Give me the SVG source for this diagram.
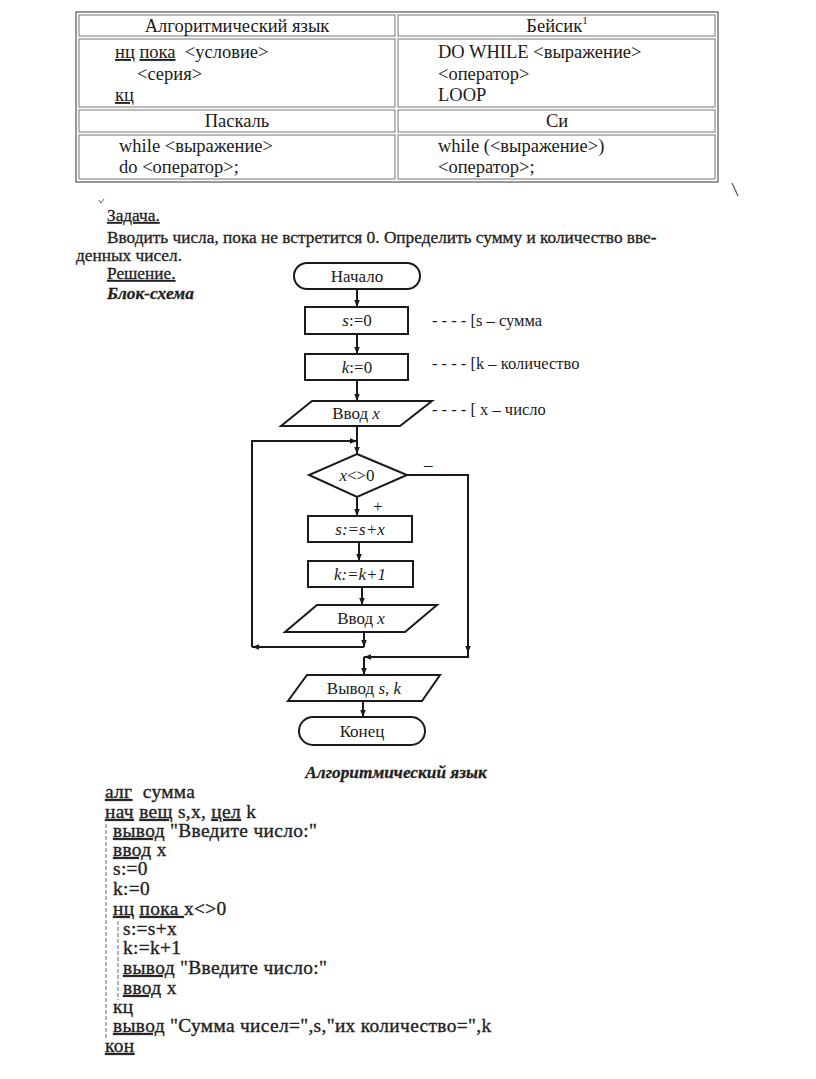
<svg xmlns="http://www.w3.org/2000/svg" width="816" height="1079" viewBox="0 0 816 1079">
<defs>
<marker id="ah" viewBox="0 0 10 10" refX="10" refY="5" markerWidth="7" markerHeight="7" markerUnits="userSpaceOnUse" orient="auto">
<path d="M0,1 L10,5 L0,9 Z" fill="#1a1a1a"/>
</marker>
<style>
text{font-family:"Liberation Serif","Times New Roman",serif;fill:#1a1a1a;white-space:pre}
.t{font-size:18.5px}
.c{text-anchor:middle}
.p{font-size:17.3px;fill:#222;stroke:#222;stroke-width:0.3}
.f{font-size:17px}
.m{font-size:16.5px}
.i{font-style:italic}
.b{font-weight:bold}
.u{text-decoration:underline}
.code{font-size:19.4px;letter-spacing:0.33px;fill:#222;stroke:#222;stroke-width:0.35}
.cell{fill:none;stroke:#777;stroke-width:1}
.outer{fill:none;stroke:#555;stroke-width:1.2}
.shape{fill:#fff;stroke:#1a1a1a;stroke-width:2}
.conn{fill:none;stroke:#1a1a1a;stroke-width:2}
.dash{stroke:#666;stroke-width:1;stroke-dasharray:4,2}
</style>
</defs>
<rect width="816" height="1079" fill="#fff"/>

<g id="table">
<rect class="outer" x="76" y="12" width="642" height="170"/>
<rect class="cell" x="79" y="15" width="316" height="21"/>
<rect class="cell" x="398" y="15" width="317" height="21"/>
<rect class="cell" x="79" y="39" width="316" height="68"/>
<rect class="cell" x="398" y="39" width="317" height="68"/>
<rect class="cell" x="79" y="110" width="316" height="22"/>
<rect class="cell" x="398" y="110" width="317" height="22"/>
<rect class="cell" x="79" y="135" width="316" height="44"/>
<rect class="cell" x="398" y="135" width="317" height="44"/>
<text class="t c" x="237" y="32">Алгоритмический язык</text>
<text class="t c" x="557" y="32">Бейсик<tspan font-size="11" dy="-8">1</tspan></text>
<text class="t" x="115" y="58"><tspan class="u">нц</tspan> <tspan class="u">пока</tspan>  &lt;условие&gt;</text>
<text class="t" x="137" y="80">&lt;серия&gt;</text>
<text class="t" x="115" y="101"><tspan class="u">кц</tspan></text>
<text class="t" x="438" y="58">DO WHILE &lt;выражение&gt;</text>
<text class="t" x="438" y="80">&lt;оператор&gt;</text>
<text class="t" x="438" y="101">LOOP</text>
<text class="t c" x="237" y="127">Паскаль</text>
<text class="t c" x="557" y="127">Си</text>
<text class="t" x="119" y="152">while &lt;выражение&gt;</text>
<text class="t" x="119" y="173">do &lt;оператор&gt;;</text>
<text class="t" x="438" y="152">while (&lt;выражение&gt;)</text>
<text class="t" x="438" y="173">&lt;оператор&gt;;</text>
</g>

<g id="marks">
<line x1="732" y1="183" x2="738" y2="196" stroke="#555" stroke-width="1.2"/>
<path d="M99,200 L101,203 L104,199" fill="none" stroke="#666" stroke-width="1"/>
</g>

<g id="task">
<text class="p" x="107" y="221"><tspan class="u">Задача.</tspan></text>
<text class="p" x="107" y="243">Вводить числа, пока не встретится 0. Определить сумму и количество вве-</text>
<text class="p" x="76" y="261">денных чисел.</text>
<text class="p" x="107" y="279"><tspan class="u">Решение.</tspan></text>
<text class="p i b" x="107" y="299">Блок-схема</text>
</g>

<g id="connectors">
<line class="conn" x1="357" y1="289" x2="357" y2="307" marker-end="url(#ah)"/>
<line class="conn" x1="357" y1="334" x2="357" y2="354" marker-end="url(#ah)"/>
<line class="conn" x1="357" y1="380" x2="357" y2="401" marker-end="url(#ah)"/>
<line class="conn" x1="357" y1="426" x2="357" y2="454" marker-end="url(#ah)"/>
<line class="conn" x1="357" y1="497" x2="357" y2="516" marker-end="url(#ah)"/>
<line class="conn" x1="359" y1="542" x2="359" y2="561" marker-end="url(#ah)"/>
<line class="conn" x1="362" y1="587" x2="362" y2="605" marker-end="url(#ah)"/>
<line class="conn" x1="364" y1="632" x2="364" y2="647" marker-end="url(#ah)"/>
<polyline class="conn" points="364,647 252,647" marker-end="url(#ah)"/>
<polyline class="conn" points="252,647 252,441 357,441" marker-end="url(#ah)"/>
<polyline class="conn" points="407,475 468,475 468,653" marker-end="url(#ah)"/>
<polyline class="conn" points="468,653 468,657 364,657" marker-end="url(#ah)"/>
<line class="conn" x1="364" y1="657" x2="364" y2="675" marker-end="url(#ah)"/>
<line class="conn" x1="363" y1="701" x2="363" y2="717" marker-end="url(#ah)"/>
<text class="f" x="424" y="470">–</text>
<text class="f" x="373" y="512">+</text>
</g>

<g id="start">
<rect class="shape" x="294" y="263" width="126" height="26" rx="13"/>
<text class="f c" x="357" y="282">Начало</text>
</g>
<g id="s0">
<rect class="shape" x="305" y="307" width="103" height="27"/>
<text class="f c" x="357" y="326"><tspan class="i">s</tspan>:=0</text>
</g>
<g id="k0">
<rect class="shape" x="305" y="354" width="103" height="26"/>
<text class="f c" x="357" y="373"><tspan class="i">k</tspan>:=0</text>
</g>
<g id="input1">
<polygon class="shape" points="312,401 432,401 400,426 281,426"/>
<text class="f c" x="356" y="419">Ввод <tspan class="i">x</tspan></text>
</g>
<g id="cond">
<polygon class="shape" points="357,454 407,475 357,497 309,475"/>
<text class="f c" x="357" y="481"><tspan class="i">x</tspan>&lt;&gt;0</text>
</g>
<g id="sum">
<rect class="shape" x="308" y="516" width="104" height="26"/>
<text class="f c i" x="360" y="535">s:=s+x</text>
</g>
<g id="cnt">
<rect class="shape" x="308" y="561" width="105" height="26"/>
<text class="f c i" x="360" y="580">k:=k+1</text>
</g>
<g id="input2">
<polygon class="shape" points="317,605 437,605 405,632 285,632"/>
<text class="f c" x="361" y="624">Ввод <tspan class="i">x</tspan></text>
</g>
<g id="output">
<polygon class="shape" points="307,675 440,675 422,701 288,701"/>
<text class="f c" x="364" y="694">Вывод <tspan class="i">s</tspan>, <tspan class="i">k</tspan></text>
</g>
<g id="end">
<rect class="shape" x="299" y="717" width="126" height="28" rx="14"/>
<text class="f c" x="362" y="737">Конец</text>
</g>

<g id="comments">
<text class="m" x="432" y="326">- - - - [s – сумма</text>
<text class="m" x="432" y="369">- - - - [k – количество</text>
<text class="m" x="432" y="415">- - - - [ x – число</text>
</g>

<g id="code">
<text class="p i b c" x="396" y="778">Алгоритмический язык</text>
<text class="code" x="105" y="798"><tspan class="u">алг</tspan>  сумма</text>
<text class="code" x="105" y="818"><tspan class="u">нач</tspan> <tspan class="u">вещ</tspan> s,x, <tspan class="u">цел</tspan> k</text>
<line class="dash" x1="106" y1="824" x2="106" y2="1040"/>
<text class="code" x="113" y="837"><tspan class="u">вывод</tspan> "Введите число:"</text>
<text class="code" x="113" y="856"><tspan class="u">ввод</tspan> x</text>
<text class="code" x="113" y="875">s:=0</text>
<text class="code" x="113" y="895">k:=0</text>
<text class="code" x="113" y="915"><tspan class="u">нц</tspan> <tspan class="u">пока </tspan>x&lt;&gt;0</text>
<line class="dash" x1="118" y1="921" x2="118" y2="1000"/>
<text class="code" x="123" y="935">s:=s+x</text>
<text class="code" x="123" y="954">k:=k+1</text>
<text class="code" x="123" y="974"><tspan class="u">вывод</tspan> "Введите число:"</text>
<text class="code" x="123" y="994"><tspan class="u">ввод</tspan> x</text>
<text class="code" x="113" y="1013">кц</text>
<text class="code" x="113" y="1032"><tspan class="u">вывод</tspan> "Сумма чисел=",s,"их количество=",k</text>
<text class="code" x="105" y="1052"><tspan class="u">кон</tspan></text>
</g>
</svg>
